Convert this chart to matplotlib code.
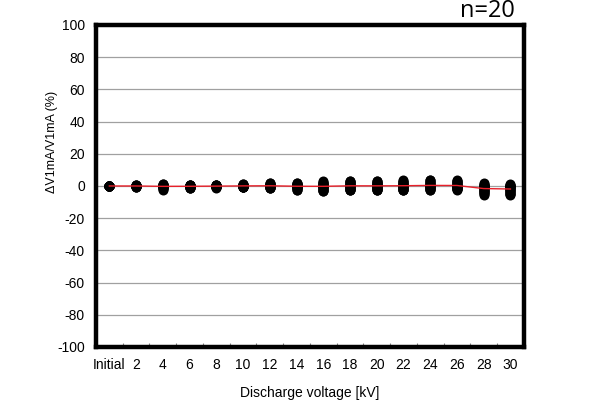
import numpy as np
import matplotlib
matplotlib.use("Agg")
import matplotlib.pyplot as plt
from matplotlib.ticker import FixedLocator

# categories on the x axis
categories = ["Initial", "2", "4", "6", "8", "10", "12", "14", "16",
              "18", "20", "22", "24", "26", "28", "30"]

# change of V1mA per sample (%), n=20 per step
v_init = [0.0] * 20
v2 = [0.7, 0.5, 0.4, 0.3, 0.2, 0.2, 0.1, 0.1, 0.0, 0.0, 0.0, -0.1, -0.1, -0.2, -0.2, -0.3, -0.3, -0.4, -0.5, -0.5]
v4 = [1.4, 1.0, 0.8, 0.6, 0.4, 0.3, 0.2, 0.1, 0.0, 0.0, -0.1, -0.2, -0.3, -0.5, -0.7, -0.9, -1.2, -1.5, -1.9, -2.2]
v6 = [0.7, 0.6, 0.5, 0.4, 0.3, 0.2, 0.1, 0.1, 0.0, 0.0, -0.1, -0.2, -0.3, -0.4, -0.5, -0.7, -0.9, -1.0, -1.2, -1.4]
v8 = [0.7, 0.6, 0.5, 0.4, 0.3, 0.2, 0.2, 0.1, 0.0, 0.0, -0.1, -0.1, -0.2, -0.3, -0.4, -0.5, -0.6, -0.7, -0.9, -1.0]
v10 = [1.4, 1.1, 0.9, 0.7, 0.5, 0.4, 0.3, 0.2, 0.1, 0.0, 0.0, -0.1, -0.2, -0.3, -0.4, -0.5, -0.6, -0.7, -0.8, -0.9]
v12 = [2.0, 1.7, 1.4, 1.1, 0.9, 0.7, 0.5, 0.3, 0.2, 0.1, 0.0, -0.1, -0.2, -0.4, -0.5, -0.7, -0.9, -1.0, -1.2, -1.4]
v14 = [2.0, 1.7, 1.4, 1.1, 0.9, 0.6, 0.4, 0.2, 0.1, 0.0, -0.1, -0.3, -0.5, -0.7, -0.9, -1.2, -1.5, -1.8, -2.2, -2.5]
v16 = [2.8, 2.4, 2.0, 1.6, 1.3, 1.0, 0.7, 0.4, 0.2, 0.0, -0.2, -0.4, -0.7, -1.0, -1.4, -1.8, -2.2, -2.6, -3.0, -3.4]
v18 = [3.4, 3.0, 2.6, 2.2, 1.8, 1.4, 1.0, 0.7, 0.4, 0.1, -0.1, -0.4, -0.7, -1.0, -1.3, -1.6, -1.9, -2.2, -2.5, -2.8]
v20 = [3.4, 3.0, 2.5, 2.1, 1.7, 1.3, 1.0, 0.7, 0.4, 0.1, -0.1, -0.4, -0.7, -1.0, -1.3, -1.6, -1.9, -2.2, -2.5, -2.8]
v22 = [3.6, 3.1, 2.7, 2.3, 1.9, 1.5, 1.1, 0.8, 0.5, 0.2, -0.1, -0.4, -0.7, -1.0, -1.3, -1.6, -1.9, -2.2, -2.5, -2.8]
v24 = [4.0, 3.5, 3.0, 2.5, 2.1, 1.7, 1.3, 0.9, 0.6, 0.3, 0.0, -0.3, -0.6, -0.9, -1.2, -1.5, -1.8, -2.0, -2.2, -2.4]
v26 = [3.6, 3.2, 2.8, 2.4, 2.0, 1.6, 1.2, 0.9, 0.6, 0.3, 0.0, -0.3, -0.6, -0.9, -1.2, -1.5, -1.7, -1.9, -2.1, -2.2]
v28 = [1.6, 1.2, 0.8, 0.5, 0.2, 0.0, -0.3, -0.6, -0.9, -1.2, -1.5, -1.8, -2.2, -2.6, -3.0, -3.5, -4.0, -4.5, -4.9, -5.3]
v30 = [1.1, 0.8, 0.5, 0.2, 0.0, -0.3, -0.6, -0.9, -1.2, -1.5, -1.8, -2.1, -2.5, -2.9, -3.3, -3.7, -4.2, -4.7, -5.1, -5.4]

samples = [v_init, v2, v4, v6, v8, v10, v12, v14, v16, v18,
           v20, v22, v24, v26, v28, v30]
yticks = [-100, -80, -60, -40, -20, 0, 20, 40, 60, 80, 100]

plt.rcParams['font.family'] = ['Liberation Sans', 'DejaVu Sans']

fig = plt.figure(figsize=(6, 4.03), dpi=100)
ax = fig.add_axes([0.16, 0.139, 0.713, 0.799])

# grid
for y in yticks[1:-1]:
    ax.axhline(y, color='#a0a0a0', lw=0.9, zorder=0)

# points
for i, vals in enumerate(samples):
    ax.plot([i] * len(vals), vals, 'o', color='black', ms=7.2, mew=0, zorder=3)

# mean line
means = [np.mean(v) for v in samples]
ax.plot(range(len(categories)), means, color='#e8202a', lw=1.0, zorder=4)

ax.set_xlim(-0.5, len(categories) - 0.5)
ax.set_ylim(-100, 100)
ax.set_yticks(yticks)
ax.set_yticklabels([str(t) for t in yticks], fontsize=10)
ax.set_xticks(range(len(categories)))
ax.set_xticklabels(categories, fontsize=10)
ax.xaxis.set_minor_locator(FixedLocator(np.arange(0.5, len(categories) - 1, 1.0)))
ax.tick_params(axis='x', which='major', length=0, pad=8)
ax.tick_params(axis='x', which='minor', direction='in', length=3, width=0.8, color='#808080')
ax.tick_params(axis='y', length=0, pad=8)

for s in ax.spines.values():
    s.set_linewidth(3.2)
    s.set_color('black')

# axis titles placed as in the source figure
fig.text(310 / 600, 1 - 393 / 403, "Discharge voltage [kV]", fontsize=10,
         ha='center', va='center')
fig.text(52 / 600, 1 - 142 / 403, "ΔV1mA/V1mA (%)", fontsize=9,
         family=['Liberation Sans Narrow', 'Liberation Sans', 'DejaVu Sans'],
         rotation=90, ha='center', va='center')

fig.text(515 / 600, 1 - 11 / 403, "n=20", fontsize=17, family=['Open Sans', 'DejaVu Sans'],
         ha='right', va='center')

fig.savefig("out.png", dpi=100, facecolor='white')
